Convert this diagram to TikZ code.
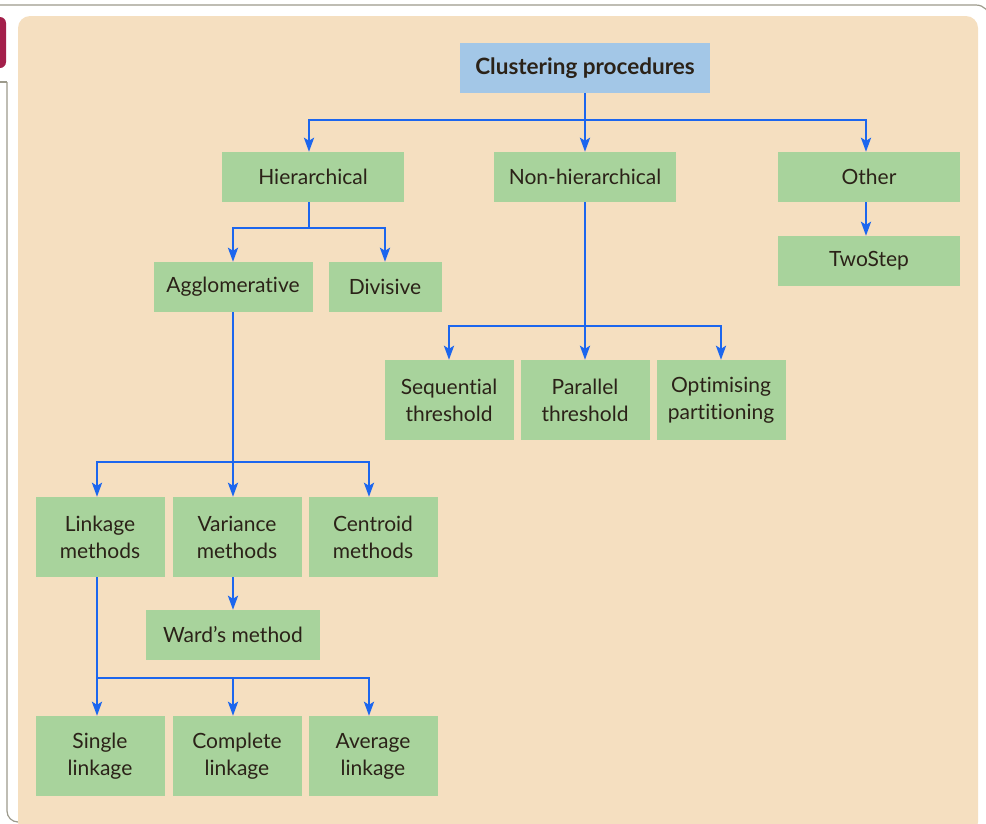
\documentclass[tikz,border=0pt]{standalone}
\usepackage{fontspec}
\setmainfont{Lato}[Ligatures=CommonOff]
\usepackage{xcolor}
\usetikzlibrary{arrows.meta, positioning}

\definecolor{panel}{HTML}{F5DFC0}
\definecolor{leaf}{HTML}{A8D39C}
\definecolor{rootblue}{HTML}{A3C7E7}
\definecolor{wire}{HTML}{1C66EE}
\definecolor{ink}{HTML}{2B2218}
\definecolor{tab}{HTML}{A31F4A}
\definecolor{rim}{HTML}{9C9A8C}

\begin{document}
\begin{tikzpicture}[x=1pt, y=-1pt, >={Stealth[length=14pt, width=10pt, inset=3pt]},
  every node/.style={font=\fontsize{21}{27}\selectfont, text=ink},
  box/.style={fill=leaf, minimum height=50pt, inner sep=0pt, align=center},
  wide/.style={box, minimum width=182pt},
  tall/.style={box, minimum width=129pt, minimum height=80pt},
  link/.style={->, draw=wire, line width=2.5pt}]
\useasboundingbox (0,0) rectangle (986,823);

% frame
\draw[rim, line width=1.2pt, rounded corners=14pt] (0,5) -- (990,5) -- (990,40);
\draw[rim, line width=1.2pt] (0,82) -- (7,82);
\draw[rim, line width=1.2pt, rounded corners=11pt] (7,82) -- (7,822) -- (30,822);
\fill[tab, rounded corners=6pt] (-12,17) rectangle (6,68);
\fill[panel, rounded corners=12pt] (18,16) rectangle (978,834);

% nodes
\node[box, fill=rootblue, minimum width=250pt, font=\fontsize{22.5}{27}\selectfont\bfseries] (root) at (585,68) {Clustering procedures};
\node[wide] (hier) at (313,177) {Hierarchical};
\node[wide] (nonhier) at (585,177) {Non-hierarchical};
\node[wide] (other) at (869,177) {Other};
\node[wide] (twostep) at (869,261) {TwoStep};
\node[box, minimum width=159pt] (agglo) at (233,287) {Agglomerative};
\node[box, minimum width=113pt] (divis) at (385,287) {Divisive};
\node[tall] (seq) at (449,400) {Sequential\\threshold};
\node[tall] (par) at (585,400) {Parallel\\threshold};
\node[tall] (opt) at (721,400) {Optimising\\partitioning};
\node[tall] (linkm) at (100,537) {Linkage\\methods};
\node[tall] (varm) at (237,537) {Variance\\methods};
\node[tall] (centm) at (373,537) {Centroid\\methods};
\node[box, minimum width=174pt] (ward) at (233,635) {Ward’s method};
\node[tall] (single) at (100,756) {Single\\linkage};
\node[tall] (complete) at (237,756) {Complete\\linkage};
\node[tall] (average) at (373,756) {Average\\linkage};

% bus points
\coordinate (b1) at (585,120);
\coordinate (b2) at (309,228);
\coordinate (b3) at (585,326);
\coordinate (b4) at (233,462);
\coordinate (b5) at (97,678);

% connectors
\draw[link] (root.south) -- (b1) -| ([xshift=-4pt]hier.north);
\draw[link] (root.south) -- (nonhier.north);
\draw[link] (root.south) -- (b1) -| ([xshift=-3pt]other.north);
\draw[link] ([xshift=-3pt]other.south) -- ([xshift=-3pt]twostep.north);
\draw[link] ([xshift=-4pt]hier.south) -- (b2) -| (agglo.north);
\draw[link] ([xshift=-4pt]hier.south) -- (b2) -| (divis.north);
\draw[link] (nonhier.south) -- (b3) -| (seq.north);
\draw[link] (nonhier.south) -- (par.north);
\draw[link] (nonhier.south) -- (b3) -| (opt.north);
\draw[link] (agglo.south) -- (b4) -| ([xshift=-3pt]linkm.north);
\draw[link] (agglo.south) -- ([xshift=-4pt]varm.north);
\draw[link] (agglo.south) -- (b4) -| ([xshift=-4pt]centm.north);
\draw[link] ([xshift=-4pt]varm.south) -- (ward.north);
\draw[link] ([xshift=-3pt]linkm.south) -- ([xshift=-3pt]single.north);
\draw[link] ([xshift=-3pt]linkm.south) -- (b5) -| ([xshift=-4pt]complete.north);
\draw[link] ([xshift=-3pt]linkm.south) -- (b5) -| ([xshift=-4pt]average.north);
\end{tikzpicture}
\end{document}
